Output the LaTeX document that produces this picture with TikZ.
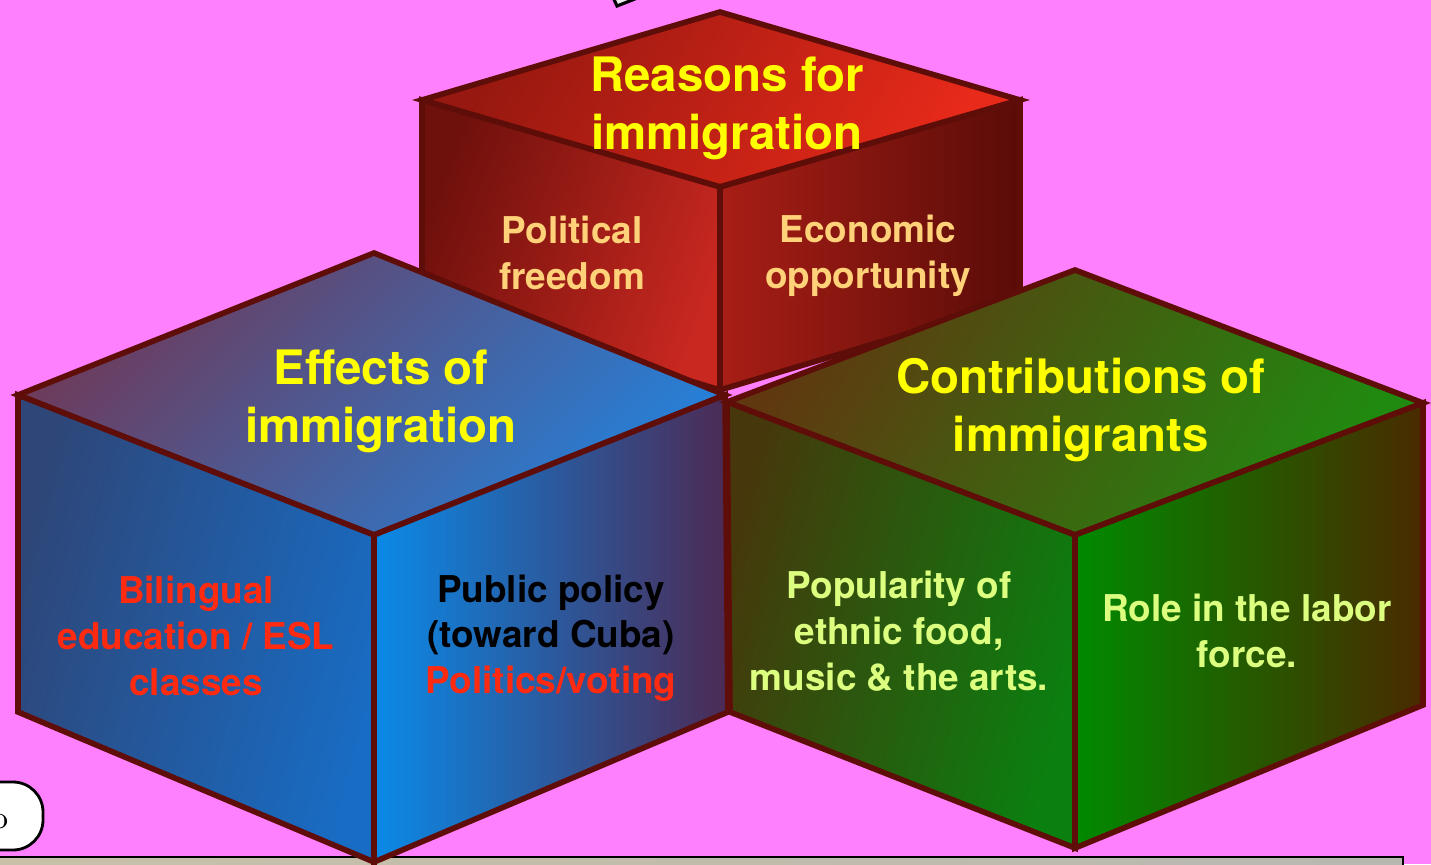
\documentclass[tikz,border=0pt]{standalone}
\usepackage{fontspec}
\newfontfamily\helv{TeX Gyre Heros}
\usepackage{tikz}
\definecolor{bgpink}{HTML}{FF80FF}
\definecolor{edgered}{HTML}{5E0D08}
\definecolor{titleyellow}{HTML}{FFFF00}
\definecolor{peach}{HTML}{FFD27A}
\definecolor{lightlime}{HTML}{DDFF80}
\definecolor{alertred}{HTML}{FF2A10}
\tikzstyle{face} = [draw=edgered, line width=1.6pt]
\tikzstyle{title} = [align=center, text=titleyellow, font=\helv\bfseries\fontsize{13.5}{16.5}\selectfont]
\tikzstyle{facetext} = [align=center, font=\helv\bfseries\fontsize{10.5}{13}\selectfont]

\begin{document}
\begin{tikzpicture}[x=0.01cm, y=-0.01cm]
	\useasboundingbox[clip] (0,0) rectangle (1431,864);
	\fill[bgpink] (0,0) rectangle (1431,864);

	% bottom bar and tab
	\shade[left color={rgb,255:red,200;green,192;blue,168}, middle color={rgb,255:red,255;green,208;blue,112}, right color={rgb,255:red,184;green,184;blue,176}] (-5,857) rectangle (1403,880);
	\draw[black, line width=0.8pt] (-5,880) -- (-5,857) -- (1403,857) -- (1403,880);
	\draw[fill=white, draw=black, line width=0.8pt, rounded corners=0.3cm] (-60,782) rectangle (43,850);
	\node (tabtext) at (0,822) {\fontsize{9}{10}\selectfont o};
	\filldraw[fill=gray!15, draw=black, line width=0.9pt] (612,-5) -- (617,6) -- (645,-5);

	% red cube
	\shade[face, top color={rgb,255:red,150;green,24;blue,16}, bottom color={rgb,255:red,232;green,42;blue,26}, shading angle=60] (720,12) -- (1020,100) -- (720,187) -- (422,100) -- cycle;
	\shade[face, top color={rgb,255:red,110;green,16;blue,12}, bottom color={rgb,255:red,200;green,40;blue,32}, shading angle=70] (422,100) -- (720,187) -- (720,390) -- (422,300) -- cycle;
	\shade[face, left color={rgb,255:red,168;green,30;blue,22}, right color={rgb,255:red,90;green,12;blue,8}] (720,187) -- (1020,100) -- (1020,300) -- (720,390) -- cycle;

	% blue cube
	\shade[face, top color={rgb,255:red,110;green,58;blue,90}, bottom color={rgb,255:red,38;green,128;blue,216}, shading angle=45] (374,253) -- (725,395) -- (374,535) -- (18,395) -- cycle;
	\shade[face, top color={rgb,255:red,46;green,70;blue,120}, bottom color={rgb,255:red,24;green,108;blue,196}, shading angle=75] (18,395) -- (374,535) -- (374,862) -- (18,712) -- cycle;
	\shade[face, left color={rgb,255:red,10;green,138;blue,232}, right color={rgb,255:red,76;green,42;blue,84}] (374,535) -- (725,395) -- (728,712) -- (374,862) -- cycle;

	% green cube
	\shade[face, top color={rgb,255:red,96;green,56;blue,16}, bottom color={rgb,255:red,32;green,138;blue,16}, shading angle=60] (1075,270) -- (1423,403) -- (1075,535) -- (727,402) -- cycle;
	\shade[face, top color={rgb,255:red,70;green,56;blue,12}, bottom color={rgb,255:red,10;green,128;blue,16}, shading angle=75] (727,402) -- (1075,535) -- (1075,848) -- (730,712) -- cycle;
	\shade[face, left color={rgb,255:red,0;green,138;blue,0}, right color={rgb,255:red,74;green,42;blue,0}] (1075,535) -- (1423,403) -- (1423,705) -- (1075,848) -- cycle;

	% titles
	\node (reasons) [title] at (727,108) {Reasons for\\immigration};
	\node (effects) [title] at (381,401) {Effects of\\immigration};
	\node (contrib) [title] at (1081,410) {Contributions of\\immigrants};

	% face texts
	\node (political) [facetext, text=peach] at (572,253) {Political\\freedom};
	\node (economic) [facetext, text=peach] at (868,256) {Economic\\opportunity};
	\node (bilingual) [facetext, text=alertred] at (196,636) {Bilingual\\education / ESL\\classes};
	\node (policy) [facetext, text=black] at (551,638) {Public policy\\(toward Cuba)\\\textcolor{alertred}{Politics/voting}};
	\node (popularity) [facetext, text=lightlime] at (899,631) {Popularity of\\ethnic food,\\music \& the arts.};
	\node (labor) [facetext, text=lightlime] at (1247,631) {Role in the labor\\force.};
\end{tikzpicture}
\end{document}
